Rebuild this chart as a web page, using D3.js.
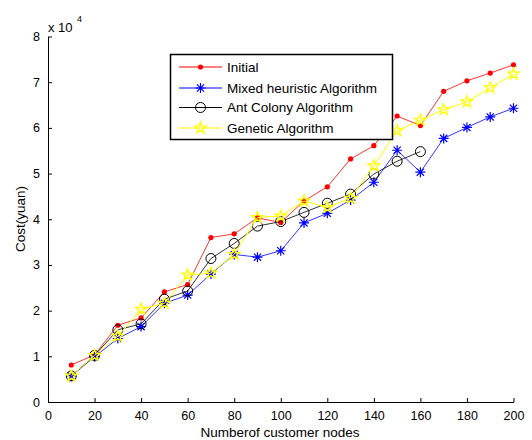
<!DOCTYPE html>
<html><head><meta charset="utf-8">
<script src="https://cdn.jsdelivr.net/npm/d3@7"></script>
<style>body{margin:0;background:#fff}svg{display:block}text{font-family:"Liberation Sans",Arial,sans-serif}</style>
</head><body><div id="chart"></div>
<script>
const xInitial = [10,20,30,40,50,60,70,80,90,100,110,120,130,140,150,160,170,180,190,200];
const initial = [8100,10300,16800,18400,24100,25700,36000,36800,40300,39300,44000,47100,53200,56100,62600,60500,68000,70300,72000,73800];
const mixed = [5700,9900,13900,16500,21600,23400,28000,32300,31700,33100,39200,41300,44200,48100,55100,50300,57700,60100,62400,64300];
const xAnt = [10,20,30,40,50,60,70,80,90,100,110,120,130,140,150,160];
const ant = [5700,10200,15800,17100,22500,24300,31400,34700,38500,39500,41500,43500,45500,49900,52700,54800];
const genetic = [5700,10200,14400,20300,21600,27800,28200,32300,40400,40700,44000,42600,44600,51700,59400,61700,64000,65700,68800,71800];
const seriesNames = ["Initial","Mixed heuristic Algorithm","Ant Colony Algorithm","Genetic Algorithm"];
const xTicks = [0,20,40,60,80,100,120,140,160,180,200];
const yTicks = [0,1,2,3,4,5,6,7,8];

const W=532,H=440;
const svg=d3.select("#chart").append("svg").attr("width",W).attr("height",H);
const x=d3.scaleLinear().domain([0,200]).range([48,513.5]);
const y=d3.scaleLinear().domain([0,80000]).range([402,36.5]);

// axes
const xAx=d3.axisBottom(x).tickValues(xTicks).tickSize(-4).tickPadding(9).tickSizeOuter(0);
const gx=svg.append("g").attr("transform","translate(0,402)").call(xAx);
const yAx=d3.axisLeft(y).tickValues(yTicks.map(v=>v*1e4)).tickFormat(v=>v/1e4).tickSize(-4).tickPadding(8).tickSizeOuter(0);
const gy=svg.append("g").attr("transform","translate(48,0)").call(yAx);
[gx,gy].forEach(g=>{g.selectAll("text").attr("font-size",12.5).attr("fill","#000").attr("font-family","Liberation Sans, Arial");g.select(".domain").attr("stroke","#000");g.selectAll("line").attr("stroke","#000");});
gx.selectAll("text").attr("dy","0.71em");

svg.append("text").attr("x",48).attr("y",32).attr("font-size",13).text("x 10");
svg.append("text").attr("x",77).attr("y",22).attr("font-size",9).text("4");
svg.append("text").attr("x",280).attr("y",437).attr("text-anchor","middle").attr("font-size",13.5).text("Numberof customer nodes");
svg.append("text").attr("transform","translate(25,219) rotate(-90)").attr("text-anchor","middle").attr("font-size",13.5).text("Cost(yuan)");

const line=d3.line().x(d=>x(d[0])).y(d=>y(d[1]));
function star(r){const pts=[];for(let i=0;i<10;i++){const a=-Math.PI/2+i*Math.PI/5;const rr=i%2?r*0.4:r;pts.push([rr*Math.cos(a),rr*Math.sin(a)]);}return "M"+pts.map(p=>p.join(",")).join("L")+"Z";}
function aster(r){const d=r*0.72;return `M${-r},0L${r},0M0,${-r}L0,${r}M${-d},${-d}L${d},${d}M${-d},${d}L${d},${-d}`;}

const series=[
 {name:seriesNames[0],xs:xInitial,ys:initial,color:"#ff0000",mk:"dot"},
 {name:seriesNames[1],xs:xInitial,ys:mixed,color:"#0000ff",mk:"aster"},
 {name:seriesNames[2],xs:xAnt,ys:ant,color:"#000000",mk:"circle"},
 {name:seriesNames[3],xs:xInitial,ys:genetic,color:"#ffff00",mk:"star"}
];
function drawMarker(g,mk,color){
 if(mk==="dot") g.append("circle").attr("r",2.6).attr("fill",color);
 else if(mk==="circle") g.append("circle").attr("r",5).attr("fill","none").attr("stroke",color).attr("stroke-width",1);
 else if(mk==="aster") g.append("path").attr("d",aster(5)).attr("stroke",color).attr("stroke-width",1.2).attr("fill","none");
 else g.append("path").attr("d",star(6)).attr("stroke",color).attr("stroke-width",1.3).attr("fill","none");
}
series.forEach(s=>{
 const data=s.xs.map((v,i)=>[v,s.ys[i]]);
 svg.append("path").datum(data).attr("d",line).attr("fill","none").attr("stroke",s.color).attr("stroke-width",1).attr("stroke-opacity",s.mk==="star"?1:0.8);
 data.forEach(d=>{const g=svg.append("g").attr("transform",`translate(${x(d[0])},${y(d[1])})`);drawMarker(g,s.mk,s.color);});
});

// legend
const lg=svg.append("g");
lg.append("rect").attr("x",170.5).attr("y",54.5).attr("width",222).attr("height",85).attr("fill","#fff").attr("stroke","#000").attr("stroke-width",1.5);
const rowsY=[67,88,107.5,128];
series.forEach((s,i)=>{
 lg.append("line").attr("x1",179).attr("x2",222).attr("y1",rowsY[i]).attr("y2",rowsY[i]).attr("stroke",s.color).attr("stroke-width",1);
 const g=lg.append("g").attr("transform",`translate(200.5,${rowsY[i]})`);drawMarker(g,s.mk,s.color);
 lg.append("text").attr("x",227).attr("y",rowsY[i]).attr("dy","0.36em").attr("font-size",13.5).text(s.name);
});
</script></body></html>
